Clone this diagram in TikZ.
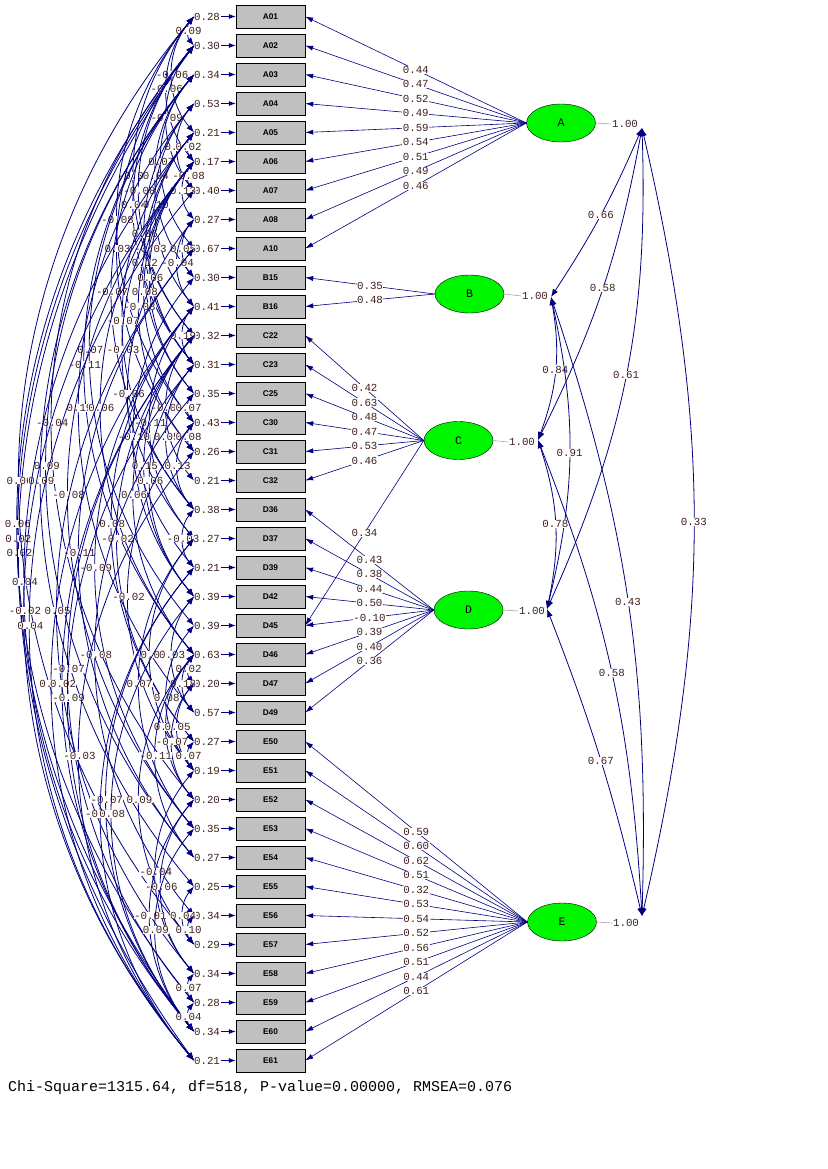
\documentclass[tikz,border=0pt]{standalone}
\usepackage{fontspec}
\setmainfont{Liberation Serif}
\newfontfamily\monofont{Liberation Mono}
\newfontfamily\boxfont{Liberation Sans}
\usetikzlibrary{arrows.meta,shapes.geometric}
\definecolor{lnavy}{RGB}{0,0,128}
\definecolor{numcol}{RGB}{64,32,32}
\definecolor{boxgray}{RGB}{192,192,192}
\definecolor{latgreen}{RGB}{0,245,0}
\begin{document}
\begin{tikzpicture}[x=1pt,y=1pt,
  num/.style={font=\monofont\fontsize{10.8}{11}\selectfont, text=numcol, inner sep=0.4pt},
  numw/.style={num, fill=white},
  obs/.style={draw=black, fill=boxgray, minimum width=69pt, minimum height=23pt, inner sep=0pt, font=\boxfont\bfseries\fontsize{8.3}{9}\selectfont},
  lat/.style={ellipse, draw=black, fill=latgreen, minimum width=69pt, minimum height=38pt, inner sep=0pt, font=\monofont\fontsize{11.5}{12}\selectfont},
  arr/.style={draw=lnavy, line width=0.8pt, -{Latex[length=7pt,width=5pt]}},
  darr/.style={draw=lnavy, line width=0.8pt, {Latex[length=8pt,width=6pt]}-{Latex[length=8pt,width=6pt]}},
  load/.style={draw=lnavy, line width=0.6pt, -{Latex[length=8pt,width=5pt]}},
  vline/.style={draw=gray!70, line width=0.6pt},
]
\useasboundingbox (0,0) rectangle (827,-1169);

% observed variables, error variances
\foreach \n/\v [count=\i from 0] in {A01/0.28, A02/0.30, A03/0.34, A04/0.53, A05/0.21, A06/0.17, A07/0.40, A08/0.27, A10/0.67, B15/0.30, B16/0.41, C22/0.32, C23/0.31, C25/0.35, C30/0.43, C31/0.26, C32/0.21, D36/0.38, D37/0.27, D39/0.21, D42/0.39, D45/0.39, D46/0.63, D47/0.20, D49/0.57, E50/0.27, E51/0.19, E52/0.20, E53/0.35, E54/0.27, E55/0.25, E56/0.34, E57/0.29, E58/0.34, E59/0.28, E60/0.34, E61/0.21} {
  \pgfmathsetmacro\yy{-(16.5+29*\i)}
  \node[obs] (b\i) at (270.5,\yy) {\n};
  \node[num] (ev\i) at (207,\yy) {\v};
  \coordinate (er\i) at (221,\yy);
  \coordinate (c\i) at (194,\yy);
  \draw[arr] (er\i) -- (b\i.west);
}

% error covariances
\foreach \i/\j/\v/\b in {1/36/0.02/36, 1/35/0.02/37.5, 1/34/0.06/39, 0/1/0.09/40, 0/4/-0.06/40, 0/5/-0.06/40, 1/6/-0.09/40, 3/6/0.09/40, 4/5/0.02/40, 2/8/0.07/40, 0/11/-0.04/40, 2/9/0.04/40, 5/6/-0.08/40, 1/11/-0.08/40, 5/7/0.13/40, 1/12/0.04/40, 3/10/0.10/40, 0/14/-0.08/40, 3/12/0.06/40, 1/15/0.03/40, 4/12/-0.03/40, 7/9/0.05/40, 4/13/0.12/40, 7/10/-0.04/40, 5/13/0.06/40, 2/17/-0.07/40, 5/14/0.08/40, 5/15/-0.08/40, 4/17/-0.07/40, 10/12/0.19/40, 2/21/0.07/40, 5/18/-0.03/40, 2/22/-0.11/40, 7/19/-0.06/40, 3/24/0.19/40, 5/22/0.06/40, 11/16/-0.06/40, 13/14/0.07/40, 1/27/-0.04/40, 10/18/-0.11/40, 9/20/-0.10/40, 12/17/0.05/40, 14/15/0.08/40, 2/29/0.09/40, 11/20/0.15/40, 14/17/0.13/40, 0/32/0.06/40, 2/30/0.09/40, 12/20/0.06/40, 5/28/-0.08/40, 11/22/0.06/40, 10/25/0.08/40, 11/25/-0.02/40, 17/19/-0.03/40, 8/29/-0.11/40, 10/28/-0.09/40, 4/35/0.04/40, 14/26/-0.02/40, 5/36/-0.02/40, 8/33/0.05/40, 6/36/0.04/40, 13/31/-0.08/40, 18/26/-0.07/40, 20/24/0.03/40, 11/34/-0.07/40, 22/23/0.02/40, 10/36/0.07/40, 11/35/0.02/40, 18/28/0.07/40, 22/24/0.18/40, 12/35/-0.09/40, 21/26/0.08/40, 22/27/0.06/40, 23/26/0.05/40, 23/27/-0.07/40, 15/36/-0.03/40, 22/29/-0.11/40, 25/26/0.07/40, 19/35/-0.07/40, 22/32/0.09/40, 19/36/-0.04/40, 20/35/0.08/40, 26/33/-0.04/40, 27/33/-0.06/40, 27/35/-0.01/40, 30/32/0.04/40, 28/35/0.09/40, 31/32/0.10/40, 33/34/0.07/40, 34/35/0.04/40} {
  \draw[darr] (c\i) to[bend right=\b] node[numw, inner sep=0.2pt] {\v} (c\j);
}

% latent variables
\node[lat] (A) at (561,-123) {A};
\node[lat] (B) at (469.5,-294) {B};
\node[lat] (C) at (458.5,-440.5) {C};
\node[lat] (D) at (468.5,-610) {D};
\node[lat] (E) at (562,-922) {E};

% loadings
\foreach \i/\v in {0/0.44, 1/0.47, 2/0.52, 3/0.49, 4/0.59, 5/0.54, 6/0.51, 7/0.49, 8/0.46}
  \draw[load] (A.west) -- node[numw] {\v} (b\i.east);
\foreach \i/\v in {9/0.35, 10/0.48}
  \draw[load] (B.west) -- node[numw] {\v} (b\i.east);
\foreach \i/\v in {11/0.42, 12/0.63, 13/0.48, 14/0.47, 15/0.53, 16/0.46, 21/0.34}
  \draw[load] (C.west) -- node[numw] {\v} (b\i.east);
\foreach \i/\v in {17/0.43, 18/0.38, 19/0.44, 20/0.50, 21/-0.10, 22/0.39, 23/0.40, 24/0.36}
  \draw[load] (D.west) -- node[numw] {\v} (b\i.east);
\foreach \i/\v in {25/0.59, 26/0.60, 27/0.62, 28/0.51, 29/0.32, 30/0.53, 31/0.54, 32/0.52, 33/0.56, 34/0.51, 35/0.44, 36/0.61}
  \draw[load] (E.west) -- node[numw] {\v} (b\i.east);

% latent variances
\node[num] (vA) at (625,-124) {1.00};
\node[num] (vB) at (535,-296) {1.00};
\node[num] (vC) at (522,-442) {1.00};
\node[num] (vD) at (532,-611) {1.00};
\node[num] (vE) at (626,-923) {1.00};
\draw[vline] (A.east) -- (vA.west);
\draw[vline] (B.east) -- (vB.west);
\draw[vline] (C.east) -- (vC.west);
\draw[vline] (D.east) -- (vD.west);
\draw[vline] (E.east) -- (vE.west);
\coordinate (tA) at (642,-128);
\coordinate (tB) at (551,-297);
\coordinate (tC) at (538,-440);
\coordinate (tD) at (547,-609);
\coordinate (tE) at (642,-916);

% latent correlations
\draw[darr] (tA) to[bend left=5] node[numw] {0.66} (tB);
\draw[darr] (tA) to[bend left=8] node[numw] {0.58} (tC);
\draw[darr] (tA) to[bend left=13] node[numw] {0.61} (tD);
\draw[darr] (tA) to[bend left=13] node[numw] {0.33} (tE);
\draw[darr] (tB) to[bend left=15] node[numw] {0.84} (tC);
\draw[darr] (tB) to[bend left=13] node[numw] {0.91} (tD);
\draw[darr] (tB) to[bend left=10] node[numw] {0.43} (tE);
\draw[darr] (tC) to[bend left=15] node[numw] {0.78} (tD);
\draw[darr] (tC) to[bend left=9] node[numw] {0.58} (tE);
\draw[darr] (tD) to[bend left=4] node[numw] {0.67} (tE);

% fit statistics
\node[anchor=west, font=\monofont\fontsize{15}{16}\selectfont, text=black, inner sep=0pt] (chi) at (8,-1088) {Chi-Square=1315.64, df=518, P-value=0.00000, RMSEA=0.076};
\end{tikzpicture}
\end{document}
